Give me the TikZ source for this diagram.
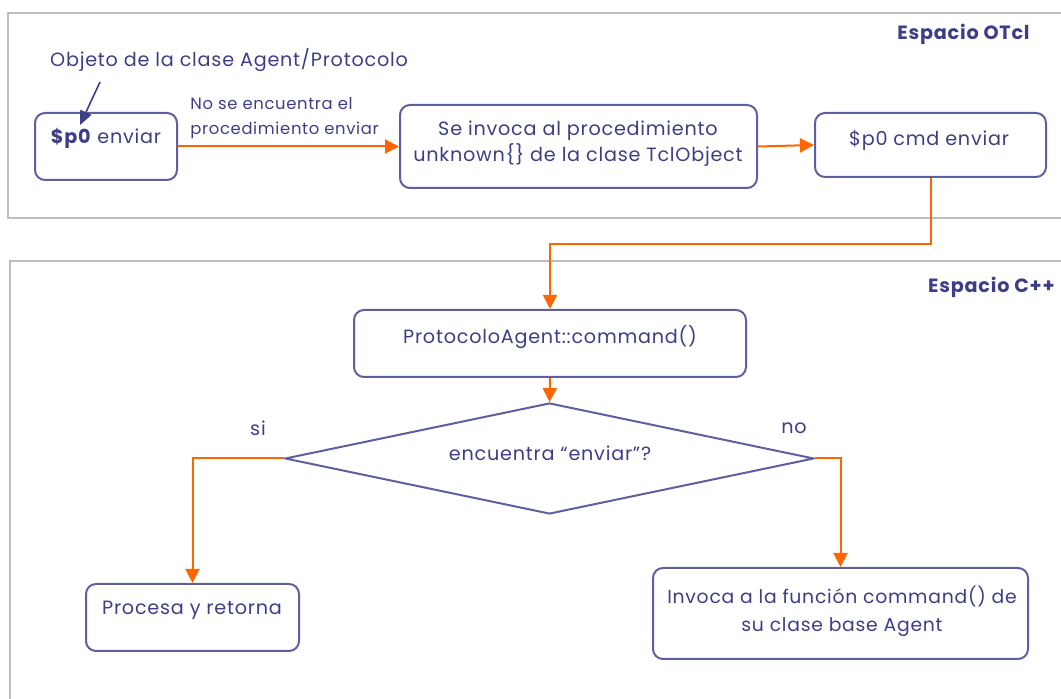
\documentclass[tikz,border=0pt]{standalone}
\usepackage{fontspec}
\setmainfont[LetterSpace=4]{Poppins}
\usetikzlibrary{arrows.meta,shapes.geometric}
\definecolor{ink}{RGB}{62,62,135}
\definecolor{edge}{RGB}{95,95,160}
\definecolor{flow}{RGB}{255,102,0}
\definecolor{framegray}{RGB}{190,190,190}
\begin{document}
\begin{tikzpicture}[x=0.5pt,y=-0.5pt,
  txt/.style={font=\fontsize{9.6}{13}\selectfont, text=ink, inner sep=0pt, align=center},
  head/.style={font=\bfseries\fontsize{9.6}{10}\selectfont, text=ink, inner sep=0pt, anchor=east},
  procbox/.style={draw=edge, line width=1pt, rounded corners=5pt, fill=white, inner sep=0pt},
  choice/.style={draw=edge, line width=1pt, diamond, inner sep=0pt, minimum width=264.5pt, minimum height=55.5pt},
  flowline/.style={draw=flow, line width=1pt, -{Triangle[width=7pt,length=7pt]}},
  pointer/.style={draw=ink, line width=0.8pt, -{Triangle[width=6pt,length=7pt]}},
  zone/.style={draw=framegray, line width=0.8pt}]
\useasboundingbox (0,0) rectangle (1061,699);

% the two spaces
\draw[zone] (1061,13) -- (8,13) -- (8,218) -- (1061,218);
\draw[zone] (1061,261) -- (10,261) -- (10,702);
\node[head] (otcl) at (1030,34) {Espacio OTcl};
\node[head] (cpp) at (1055,287) {Espacio C++};

% OTcl space
\node[procbox, minimum width=71pt, minimum height=33.5pt] (b1) at (106,146.5) {};
\node[txt] (t1) at (106,138) {\textbf{\$p0} enviar};
\node[procbox, minimum width=178.5pt, minimum height=41.5pt] (b2) at (578.5,146.5) {};
\node[txt] (t2) at (578,144) {Se invoca al procedimiento\\unknown\{\} de la clase TclObject};
\node[procbox, minimum width=115.5pt, minimum height=32pt] (b3) at (930.5,145) {};
\node[txt] (t3) at (929,140) {\$p0 cmd enviar};

\node[txt] (obj) at (229,60) {Objeto de la clase Agent/Protocolo};
\coordinate (objtail) at (100,82);
\coordinate (objtip) at (80,125);
\draw[pointer] (objtail) -- (objtip);

\node[txt, font=\fontsize{8.2}{12.5}\selectfont, align=left, anchor=west] (nofound) at (190,118) {No se encuentra el\\procedimiento enviar};

% C++ space
\node[procbox, minimum width=196pt, minimum height=33.5pt] (b4) at (550,343.5) {};
\node[txt] (t4) at (550,337) {ProtocoloAgent::command()};
\node[choice] (q) at (549.5,458.5) {};
\node[txt] (tq) at (550,453) {encuentra “enviar”?};
\node[procbox, minimum width=106.5pt, minimum height=33.5pt] (yes) at (192.5,617.5) {};
\node[txt] (ty) at (192,610) {Procesa y retorna};
\node[procbox, minimum width=187.5pt, minimum height=45.5pt] (nobox) at (840.5,613.5) {};
\node[txt, font=\fontsize{9.4}{14}\selectfont] (tn) at (842,611) {Invoca a la función command() de\\su clase base Agent};
\node[txt] (si) at (258,428) {si};
\node[txt] (no) at (794,428) {no};

% flow
\draw[flowline] (b1.east) -- (b2.west);
\draw[flowline] (b2.east) -- (b3.west);
\draw[flowline] (b3.south) -- ++(0,66) -| (b4.north);
\draw[flowline] (b4.south) -- (q.north);
\draw[flowline] (q.west) -| (yes.north);
\draw[flowline] (q.east) -| (nobox.north);
\end{tikzpicture}
\end{document}
